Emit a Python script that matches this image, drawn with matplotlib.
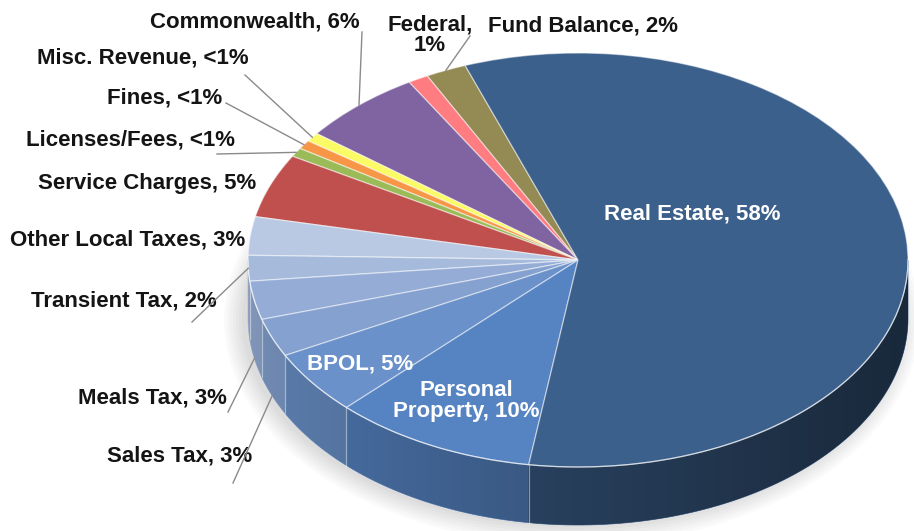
import numpy as np
import matplotlib.pyplot as plt
from matplotlib.transforms import Affine2D
from matplotlib.patches import Ellipse, Polygon

# revenue sources, counter-clockwise from the top of the pie
labels = ["Fund Balance, 2%", "Federal,\n1%", "Commonwealth, 6%", "Misc. Revenue, <1%",
          "Fines, <1%", "Licenses/Fees, <1%", "Service Charges, 5%", "Other Local Taxes, 3%",
          "Transient Tax, 2%", "Meals Tax, 3%", "Sales Tax, 3%", "BPOL, 5%",
          "Personal\nProperty, 10%", "Real Estate, 58%"]
shares = [2, 1, 6, 0.7, 0.7, 0.7, 5, 3, 2, 3, 3, 5, 10, 58]
colors = ["#948a54", "#ff7c80", "#8064a2", "#fbfb66", "#f79646", "#9bbb59", "#c0504d",
          "#b9c9e3", "#a6bbdc", "#95add6", "#84a1d0", "#6a91c9", "#5684c3", "#3c608c"]

# layout (pixels)
CX, CY, RX, RY, DEPTH = 578, 260, 330, 207, 58

# label centre, leader start (None = no leader), leader end pushed down onto the wall
LABEL_POS = {
    "Fund Balance, 2%": ((583, 26), (470, 36), 0.0),
    "Federal,\n1%": ((430, 35), None, 0.0),
    "Commonwealth, 6%": ((255, 22), (362, 32), 0.0),
    "Misc. Revenue, <1%": ((143, 58), (245, 75), 0.0),
    "Fines, <1%": ((165, 98), (226, 103), 0.0),
    "Licenses/Fees, <1%": ((131, 140), (217, 154), 0.0),
    "Service Charges, 5%": ((147, 184), None, 0.0),
    "Other Local Taxes, 3%": ((128, 240), None, 0.0),
    "Transient Tax, 2%": ((124, 301), (192, 322), 0.0),
    "Meals Tax, 3%": ((152, 398), (228, 412), 1.0),
    "Sales Tax, 3%": ((180, 456), (233, 483), 1.0),
}
INSIDE_POS = {
    "BPOL, 5%": (360, 364),
    "Personal\nProperty, 10%": (466, 401),
    "Real Estate, 58%": (692, 214),
}


def rim(t_deg, drop=0.0):
    t = np.radians(t_deg)
    return CX + RX * np.cos(t), CY - RY * np.sin(t) + drop


fig = plt.figure(figsize=(9.14, 5.31), dpi=100)
ax = fig.add_axes([0, 0, 1, 1])
wedges, _ = ax.pie(shares, colors=colors, startangle=110, counterclock=True, radius=1,
                   wedgeprops=dict(linewidth=0.9, edgecolor=(1, 1, 1, 0.5)))

squash = Affine2D().scale(RX, -RY).translate(CX, CY) + ax.transData
for w in wedges:
    w.set_transform(squash)
    w.set_zorder(4)

# soft shadow under the pie
for s in range(7):
    ax.add_patch(Ellipse((CX - 6, CY + DEPTH + 2), 2 * RX + 6 * s, 2 * RY + 6 * s,
                         facecolor="black", edgecolor="none", alpha=0.018, zorder=1))

# side wall of the front half, one piece per slice
seams = []
for w, c in zip(wedges, colors):
    for k in (0, 360):
        lo, hi = max(w.theta1, 180 + k), min(w.theta2, 360 + k)
        if hi <= lo:
            continue
        ts = np.linspace(lo, hi, max(3, int(hi - lo) * 2))
        xs, ys = rim(ts)
        xb, yb = rim(ts[::-1], DEPTH)
        ax.fill(np.r_[xs, xb], np.r_[ys, yb], color=c, lw=0.5, zorder=2)
        seams += [lo, hi]

# darken the wall towards the right
ts = np.linspace(180, 360, 300)
xs, ys = rim(ts)
xb, yb = rim(ts[::-1], DEPTH)
wall = Polygon(np.c_[np.r_[xs, xb], np.r_[ys, yb]], closed=True, transform=ax.transData)
ramp = np.zeros((1, 256, 4))
ramp[..., 3] = np.linspace(0.14, 0.58, 256)
img = ax.imshow(ramp, extent=(CX - RX, CX + RX, CY + RY + DEPTH + 2, CY - 2),
                interpolation="bilinear", zorder=2.5)
img.set_clip_path(wall)

for t in set(np.round(seams, 3)):
    if 180 < t % 360 < 360:
        x0, y0 = rim(t)
        x1, y1 = rim(t, DEPTH)
        ax.plot([x0, x1], [y0, y1], color="white", alpha=0.45, lw=0.9, zorder=3)

ax.plot(*rim(ts), color="white", alpha=0.55, lw=0.9, zorder=5)

# outside labels with leader lines
mids = {lab: (w.theta1 + w.theta2) / 2 for lab, w in zip(labels, wedges)}
for lab, ((tx, ty), start, drop) in LABEL_POS.items():
    ax.text(tx, ty, lab, ha="center", va="center", fontsize=16, fontweight="bold",
            family="Liberation Sans", color="#141414", linespacing=1.0, zorder=6)
    if start is not None:
        ex, ey = rim(mids[lab], drop * DEPTH)
        ax.plot([start[0], ex], [start[1], ey], color="#8a8a8a", lw=1.0, zorder=6)

for lab, (tx, ty) in INSIDE_POS.items():
    ax.text(tx, ty, lab, ha="center", va="center", fontsize=16, fontweight="bold",
            family="Liberation Sans", color="white", linespacing=1.0, zorder=6)

ax.set_aspect("auto")
ax.set_xlim(0, 914)
ax.set_ylim(531, 0)
ax.axis("off")

fig.savefig("out.png", dpi=100, facecolor="white")
